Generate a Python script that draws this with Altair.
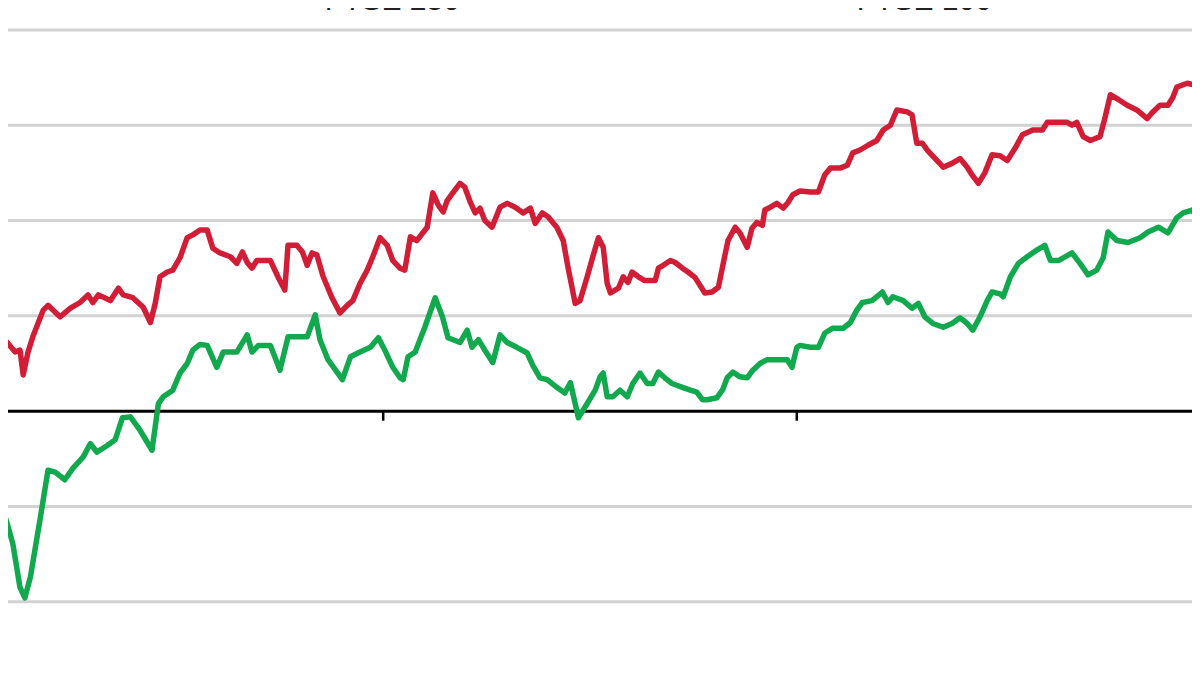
import altair as alt
import pandas as pd

# ---- data (x in weeks from start, y in % relative performance) ----
weeks_100 = [0.0, 0.4, 0.6, 1.9, 2.5, 2.9, 3.5, 4.1, 5.4, 6.0, 7.5, 8.8, 10.0, 11.0, 11.6, 12.3, 13.8, 14.8, 15.4, 16.6,
             17.9, 18.8, 19.4, 20.0, 20.9, 21.6, 22.5, 23.4, 24.1, 25.0, 25.9, 26.6, 27.5, 28.8, 29.6, 30.3, 30.9, 31.5,
             32.1, 33.8, 34.8, 35.6, 36.0, 37.1, 37.8, 38.4, 39.0, 39.6, 40.4, 41.5, 42.5, 43.4, 44.1, 45.0, 45.9, 46.6,
             47.5, 48.4, 49.1, 50.0, 50.6, 51.3, 52.1, 53.4, 54.1, 54.8, 55.4, 55.9, 56.6, 57.5, 58.1, 58.8, 59.4, 60.0,
             60.6, 61.5, 62.5, 63.4, 64.4, 65.4, 66.3, 66.9, 67.8, 68.5, 69.6, 70.4, 71.0, 71.9, 72.5, 73.4, 74.1, 74.8,
             75.4, 75.9, 76.3, 77.3, 77.9, 78.5, 79.0, 79.8, 80.6, 81.9, 82.3, 82.9, 83.8, 84.4, 85.3, 86.0, 86.9, 87.5,
             88.1, 89.0, 89.8, 90.4, 91.0, 91.9, 92.5, 93.4, 94.0, 94.6, 95.3, 95.6, 96.3, 97.1, 97.9, 98.5, 99.1, 100.0,
             101.3, 102.3, 103.1, 103.8, 105.0, 105.9, 106.6, 107.5, 108.5, 109.6, 110.4, 111.3, 112.1, 113.4, 114.0,
             114.6, 115.3, 115.9, 116.9, 117.9, 119.0, 120.0, 120.9, 121.5, 122.3, 123.1, 124.0, 125.0, 125.9, 126.9,
             127.8, 129.1, 130.3, 130.9, 132.1, 133.4, 134.0, 134.6, 135.4, 136.3, 137.5, 138.1, 138.8, 139.6, 140.9,
             142.1, 143.4, 144.0, 145.0, 146.0, 146.6, 147.1, 148.4, 149.4, 150.0]
ftse100 = [3.3, 7.7, 7.5, 6.2, 6.4, 3.8, 6.2, 7.8, 10.6, 11.1, 9.9, 10.8, 11.4, 12.2, 11.4, 12.2, 11.6, 12.9, 12.2, 11.9,
           10.9, 9.3, 11.3, 14.1, 14.6, 14.8, 16.1, 18.2, 18.5, 19.0, 19.0, 17.1, 16.6, 16.2, 15.5, 16.7, 15.6, 15.0,
           15.8, 15.8, 14.0, 12.7, 17.4, 17.4, 16.7, 15.3, 16.6, 16.4, 14.1, 11.9, 10.3, 11.1, 11.6, 13.4, 14.8, 16.2,
           18.2, 17.4, 15.8, 15.0, 14.8, 18.3, 17.9, 19.3, 22.9, 21.6, 20.9, 22.1, 22.9, 23.9, 23.5, 21.9, 20.8, 21.3,
           20.0, 19.3, 21.4, 21.8, 21.4, 20.8, 21.3, 19.7, 20.8, 20.4, 19.3, 17.9, 15.1, 11.3, 11.6, 14.1, 16.2, 18.2,
           17.2, 13.4, 12.4, 12.9, 14.1, 13.5, 14.6, 14.1, 13.7, 13.7, 15.0, 15.3, 15.8, 15.6, 15.0, 14.6, 14.0, 13.2,
           12.4, 12.5, 13.0, 15.5, 17.9, 19.3, 18.7, 17.2, 19.2, 19.8, 19.5, 21.1, 21.4, 21.8, 21.3, 21.9, 22.7, 23.1,
           23.0, 23.0, 24.8, 25.5, 25.5, 25.8, 27.1, 27.4, 27.9, 28.4, 29.5, 30.0, 31.6, 31.4, 31.1,
           28.1, 28.1, 27.4, 26.5, 25.6, 26.0, 26.5, 25.6, 24.8, 23.9, 25.0, 26.9, 26.8, 26.3, 27.6,
           29.0, 29.5, 29.5, 30.3, 30.3, 30.3, 30.0, 30.3, 28.8, 28.4, 28.8, 30.7, 33.2, 32.8, 32.1,
           31.6, 30.7, 31.3, 32.1, 32.1, 32.9, 34.0, 34.4, 34.2, 31.6]

weeks_250 = [0.0, 0.9, 1.6, 2.5, 3.1, 3.8, 5.0, 6.0, 6.9, 8.1, 9.1, 10.4, 11.3, 12.1, 13.4, 14.4, 15.3, 16.3, 17.5, 19.0,
             19.8, 20.4, 21.6, 22.5, 23.4, 24.1, 25.0, 25.9, 27.1, 27.9, 29.6, 30.9, 31.5, 32.3, 33.8, 35.0, 36.0, 37.3,
             38.4, 39.4, 40.0, 41.0, 42.8, 43.8, 45.0, 46.3, 47.3, 48.1, 49.1, 50.0, 50.4, 51.0, 51.9, 53.1, 54.4, 55.3,
             56.0, 57.5, 58.4, 59.0, 59.8, 60.6, 61.6, 62.5, 63.4, 64.6, 65.9, 66.6, 67.5, 68.4, 69.6, 70.6, 71.3, 72.3,
             73.4, 74.4, 75.0, 75.4, 75.9, 76.6, 77.5, 78.4, 79.1, 80.0, 80.9, 81.6, 82.3, 83.1, 84.0, 85.3, 86.3, 87.1,
             87.8, 88.4, 89.6, 90.3, 90.9, 91.6, 92.5, 93.4, 94.1, 95.0, 95.9, 97.1, 98.4, 99.0, 99.6, 100.0, 101.3,
             102.3, 103.1, 104.1, 105.4, 106.3, 107.1, 107.8, 109.0, 110.3, 111.0, 111.6, 112.9, 114.0, 114.8, 115.6,
             116.6, 117.9, 119.0, 120.0, 120.9, 121.6, 122.5, 123.4, 124.0, 125.0, 125.4, 126.3, 127.3, 128.4, 129.6,
             130.6, 131.3, 132.3, 134.0, 135.0, 136.0, 137.1, 137.9, 138.5, 139.6, 141.0, 142.5, 143.5, 144.8, 146.0,
             147.1, 147.9, 149.0, 149.6, 150.0]
ftse250 = [-9.3, -11.8, -13.9, -18.5, -19.6, -17.4, -11.4, -6.2, -6.4, -7.2, -6.0, -4.8, -3.4, -4.3, -3.6, -3.0, -0.7,
           -0.6, -2.0, -4.1, 0.8, 1.5, 2.2, 4.0, 5.0, 6.4, 7.0, 6.9, 4.6, 6.2, 6.2, 8.0, 6.2, 6.9, 6.9, 4.3, 7.8, 7.8,
           7.8, 10.1, 7.5, 5.4, 3.3, 5.7, 6.2, 6.7, 7.7, 6.4, 4.6, 3.5, 3.3, 5.7, 6.2, 8.8, 11.9, 9.9,
           7.7, 7.2, 8.5, 6.7, 7.5, 6.4, 5.1, 8.0, 7.2, 6.7, 6.1, 4.8, 3.5, 3.3, 2.5, 1.9, 3.0, -0.7,
           0.8, 2.2, 3.6, 4.0, 1.5, 1.5, 2.2, 1.5, 2.9, 4.0, 2.9, 2.9, 4.1, 3.5, 2.9, 2.5, 2.2, 2.0,
           1.2, 1.2, 1.4, 2.2, 3.5, 4.1, 3.6, 3.5, 4.3, 5.0, 5.4, 5.4, 5.4, 4.6, 6.7, 6.9, 6.7,
           6.7, 8.2, 8.7, 8.7, 9.3, 10.6, 11.4, 11.6, 12.5, 11.4, 12.0, 11.6, 10.8, 11.3, 9.9,
           9.2, 8.8, 9.2, 9.8, 9.2, 8.5, 9.9, 11.6, 12.5, 12.3, 12.0, 14.1, 15.5, 16.2, 16.9,
           17.4, 15.8, 15.8, 16.6, 15.5, 14.3, 14.8, 16.1, 18.8, 17.9, 17.7, 18.2, 18.8, 19.3, 18.7,
           20.3, 20.8, 21.1, 20.4, 17.4]

grid_values = [-20, -10, 10, 20, 30, 40]
year_starts = [47.9, 99.6]
legend_labels = ["FTSE 250", "FTSE 100"]
legend_weeks = [40.6, 107.1]

GREEN = "#12a84e"
RED = "#d11d36"

df100 = pd.DataFrame({"week": weeks_100, "value": ftse100})
df250 = pd.DataFrame({"week": weeks_250, "value": ftse250})
ticks_df = pd.DataFrame({"week": year_starts, "top": [0.0] * len(year_starts), "bottom": [-1.0] * len(year_starts)})
zero_df = pd.DataFrame({"value": [0.0]})
grid_df = pd.DataFrame({"value": grid_values})
legend_df = pd.DataFrame({"week": legend_weeks, "value": [42.05, 42.05], "label": legend_labels})

x_scale = alt.Scale(domain=[1, 149], nice=False, zero=False)
y_scale = alt.Scale(domain=[-25.9, 42.3], nice=False, zero=False)

X = alt.X("week:Q", scale=x_scale, axis=None)
Y = alt.Y("value:Q", scale=y_scale, axis=None)

grid_rules = alt.Chart(grid_df).mark_rule(color="#d2d2d2", strokeWidth=3).encode(y=Y)

zero_rule = alt.Chart(zero_df).mark_rule(color="black", strokeWidth=3).encode(y=Y)

tick_rules = alt.Chart(ticks_df).mark_rule(color="black", strokeWidth=2.5).encode(
    x=X,
    y=alt.Y("top:Q", scale=y_scale, axis=None),
    y2="bottom:Q",
)

red_line = alt.Chart(df100).mark_line(color=RED, strokeWidth=5.5, clip=True, strokeJoin="round").encode(x=X, y=Y)

green_line = alt.Chart(df250).mark_line(color=GREEN, strokeWidth=5.5, clip=True, strokeJoin="round").encode(x=X, y=Y)

legend_text = alt.Chart(legend_df).mark_text(
    align="left", baseline="alphabetic", fontSize=30, font="Liberation Sans", color="#222222", clip=True
).encode(x=X, y=Y, text="label:N")

chart = alt.layer(grid_rules, zero_rule, tick_rules, red_line, green_line, legend_text).properties(
    width=1184, height=650, padding=0, autosize=alt.AutoSizeParams(type="none")
).configure_view(stroke=None)

chart.save("out.html", embed_options={"renderer": "svg", "actions": False})
